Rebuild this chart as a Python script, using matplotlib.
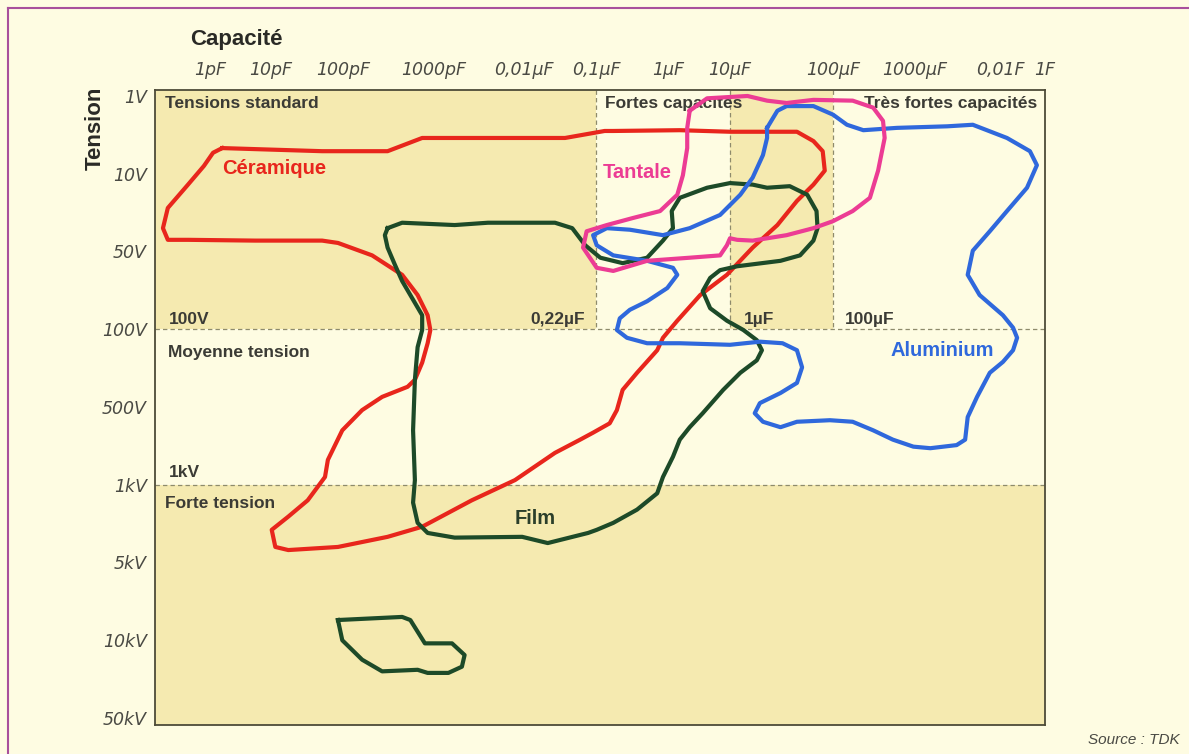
import numpy as np
import matplotlib
matplotlib.use("Agg")
import matplotlib.pyplot as plt
from matplotlib.lines import Line2D

plt.rcParams['font.family'] = ['Liberation Sans', 'DejaVu Sans']

# x = log10(capacite en F), y = rang du repere de tension (0 = 1V ... 8 = 50kV)
cap_ticks = [-12, -11, -10, -9, -8, -7, -6, -5, -4, -3, -2, 0]
cap_labels = ['1pF', '10pF', '100pF', '1000pF', '0,01µF', '0,1µF', '1µF', '10µF',
              '100µF', '1000µF', '0,01F', '1F']
volt_labels = ['1V', '10V', '50V', '100V', '500V', '1kV', '5kV', '10kV', '50kV']

# zones (bornes des cases)
std_limit = 3      # 100V
high_limit = 5     # 1kV
col_limits = [-7, -5, -4]

ceramique_x = [-11.80, -10.99, -10.29, -9.51, -9.13, -8.40, -7.43, -6.88, -6.76, -5.81,
               -5.00, -4.35, -4.19, -4.10, -4.08, -4.19, -4.35, -4.54, -4.78, -5.05,
               -5.48, -5.85, -6.07, -6.15, -6.43, -6.63, -6.71, -6.81, -7.04, -7.22,
               -7.57, -8.10, -8.58, -9.13, -9.51, -10.07, -10.76, -10.94, -10.99, -10.76,
               -10.49, -10.25, -10.21, -10.01, -9.79, -9.57, -9.29, -9.21, -9.13, -9.07,
               -9.04, -9.07, -9.18, -9.35, -9.68, -10.07, -10.29, -11.26, -12.36, -12.69,
               -12.77, -12.69, -12.36, -12.10, -11.95, -11.80]
ceramique_y = [0.67, 0.69, 0.71, 0.71, 0.54, 0.54, 0.54, 0.45, 0.45, 0.44,
               0.46, 0.46, 0.58, 0.71, 0.96, 1.14, 1.35, 1.66, 1.95, 2.30,
               2.56, 2.89, 3.11, 3.27, 3.56, 3.78, 4.04, 4.21, 4.33, 4.42,
               4.59, 4.94, 5.20, 5.54, 5.67, 5.80, 5.84, 5.80, 5.58, 5.41,
               5.20, 4.90, 4.68, 4.30, 4.04, 3.87, 3.74, 3.65, 3.43, 3.18,
               3.01, 2.82, 2.56, 2.30, 2.05, 1.89, 1.86, 1.86, 1.85, 1.85,
               1.70, 1.44, 1.14, 0.90, 0.73, 0.67]

film_x = [-9.51, -9.35, -8.77, -8.40, -7.57, -7.33, -7.15, -6.94, -6.63, -6.29,
          -6.07, -5.92, -5.94, -5.81, -5.37, -5.00, -4.78, -4.64, -4.42, -4.25,
          -4.16, -4.15, -4.19, -4.32, -4.51, -4.93, -5.16, -5.32, -5.44, -5.32,
          -5.05, -4.87, -4.74, -4.69, -4.74, -4.90, -5.11, -5.44, -5.65, -5.81,
          -5.92, -6.07, -6.15, -6.43, -6.76, -6.99, -7.11, -7.67, -8.02, -8.77,
          -9.07, -9.18, -9.23, -9.21, -9.23, -9.21, -9.18, -9.13, -9.13, -9.24,
          -9.35, -9.43, -9.51, -9.54, -9.51]
film_y = [1.70, 1.63, 1.66, 1.63, 1.63, 1.70, 1.92, 2.08, 2.15, 2.08,
          1.86, 1.70, 1.48, 1.31, 1.18, 1.12, 1.14, 1.18, 1.16, 1.27,
          1.48, 1.70, 1.86, 2.05, 2.12, 2.19, 2.24, 2.34, 2.51, 2.73,
          2.89, 3.01, 3.14, 3.27, 3.40, 3.56, 3.78, 4.08, 4.26, 4.42,
          4.64, 4.90, 5.11, 5.32, 5.49, 5.58, 5.62, 5.75, 5.67, 5.68,
          5.62, 5.49, 5.23, 4.94, 4.30, 3.65, 3.23, 3.01, 2.82, 2.60,
          2.38, 2.17, 1.95, 1.79, 1.70]

film_ht_x = [-10.07, -9.35, -9.26, -9.10, -8.80, -8.66, -8.69, -8.84, -9.07, -9.18,
             -9.57, -9.79, -10.01, -10.07]
film_ht_y = [6.74, 6.70, 6.74, 7.04, 7.04, 7.19, 7.34, 7.42, 7.42, 7.38,
             7.40, 7.25, 7.00, 6.74]

tantale_x = [-5.65, -5.37, -4.83, -4.64, -4.45, -4.19, -3.76, -3.51, -3.39, -3.37,
             -3.45, -3.55, -3.76, -4.00, -4.19, -4.45, -4.78, -4.93, -5.00, -5.05,
             -5.16, -5.65, -6.29, -6.76, -6.99, -7.18, -7.13, -6.85, -6.49, -6.11,
             -5.85, -5.76, -5.69, -5.69, -5.65]
tantale_y = [0.19, 0.03, 0.00, 0.06, 0.09, 0.05, 0.06, 0.15, 0.32, 0.54,
             0.96, 1.31, 1.48, 1.61, 1.70, 1.79, 1.86, 1.85, 1.83, 1.92,
             2.05, 2.08, 2.12, 2.25, 2.21, 1.95, 1.74, 1.66, 1.57, 1.48,
             1.27, 1.02, 0.67, 0.41, 0.19]

alu_x = [-4.64, -4.54, -4.45, -4.19, -4.00, -3.83, -3.63, -3.22, -2.62, -2.32,
         -1.69, -0.67, -0.36, -0.80, -1.69, -2.12, -2.32, -2.38, -2.24, -1.87,
         -1.42, -1.24, -1.42, -1.87, -2.12, -2.27, -2.38, -2.41, -2.51, -2.82,
         -3.02, -3.27, -3.51, -3.76, -4.03, -4.35, -4.51, -4.68, -4.76, -4.71,
         -4.51, -4.35, -4.30, -4.35, -4.49, -4.71, -5.00, -5.81, -6.29, -6.57,
         -6.71, -6.67, -6.53, -6.29, -6.01, -5.85, -5.92, -6.29, -6.76, -6.99,
         -7.04, -6.85, -6.53, -6.07, -5.65, -5.16, -4.90, -4.78, -4.68, -4.64,
         -4.64]
alu_y = [0.41, 0.19, 0.13, 0.13, 0.24, 0.37, 0.44, 0.41, 0.39, 0.37,
         0.54, 0.71, 0.89, 1.18, 1.48, 1.74, 1.99, 2.30, 2.56, 2.82,
         2.98, 3.11, 3.27, 3.42, 3.56, 3.87, 4.13, 4.42, 4.49, 4.53,
         4.51, 4.42, 4.30, 4.19, 4.17, 4.19, 4.26, 4.19, 4.08, 3.95,
         3.82, 3.69, 3.49, 3.27, 3.18, 3.16, 3.20, 3.18, 3.18, 3.11,
         3.01, 2.86, 2.75, 2.64, 2.47, 2.30, 2.21, 2.12, 2.05, 1.92,
         1.79, 1.70, 1.72, 1.79, 1.70, 1.53, 1.27, 1.05, 0.76, 0.54,
         0.41]

# the printed scale gives every decade its own width: pixel of each decade mark
decade_log = [-12.9] + cap_ticks
decade_px = [155, 210, 271, 343, 434, 524, 596, 668, 730, 833, 915, 1000, 1045]
decade_frac = [(p - 155) / 890 for p in decade_px]

def fwd(v):
    return np.interp(v, decade_log, decade_frac)

def inv(v):
    return np.interp(v, decade_frac, decade_log)

page = '#fefce2'
dark = '#f5eab0'
grid_col = '#8e8b6c'
txt = '#3b3b35'

fig = plt.figure(figsize=(11.89, 7.54), dpi=100, facecolor=page)
ax = fig.add_axes([155 / 1189, 29 / 754, 890 / 1189, 635 / 754])
ax.set_xscale('function', functions=(fwd, inv))
ax.set_xlim(-12.9, 0)
ax.set_ylim(8.09, -0.077)
ax.set_facecolor(page)

# fond des zones
ax.axhspan(high_limit, 8.09, color=dark, lw=0, zorder=0)
ax.fill_between([-12.9, col_limits[0]], -0.077, std_limit, color=dark, lw=0, zorder=0)
ax.fill_between([col_limits[1], col_limits[2]], -0.077, std_limit, color=dark, lw=0, zorder=0)

ls = (0, (3.5, 2.5))
for yl in [std_limit, high_limit]:
    ax.axhline(yl, color=grid_col, lw=0.9, ls=ls, zorder=1)
ax.vlines(col_limits, -0.077, std_limit, color=grid_col, lw=0.9, ls=ls, zorder=1)

lw = 3.0
ax.plot(ceramique_x, ceramique_y, color='#e8261c', lw=lw, solid_joinstyle='round', zorder=3)
ax.plot(film_x, film_y, color='#1d4a28', lw=lw, solid_joinstyle='round', zorder=4)
ax.plot(film_ht_x, film_ht_y, color='#1d4a28', lw=lw, solid_joinstyle='round', zorder=4)
ax.plot(alu_x, alu_y, color='#2f68dc', lw=lw, solid_joinstyle='round', zorder=5)
ax.plot(tantale_x, tantale_y, color='#ec3c94', lw=lw, solid_joinstyle='round', zorder=6)

# libelles des familles
ffs = 14.5
ax.text(-11.8, 0.93, 'Céramique', color='#e8261c', fontsize=ffs, fontweight='bold', va='center')
ax.text(-6.9, 0.98, 'Tantale', color='#ec3c94', fontsize=ffs, fontweight='bold', va='center')
ax.text(-8.1, 5.44, 'Film', color='#2b3f2a', fontsize=ffs, fontweight='bold', va='center')
ax.text(-3.3, 3.27, 'Aluminium', color='#2f68dc', fontsize=ffs, fontweight='bold', va='center')

# libelles des zones
zfs = 12.5
ax.text(-12.73, 0.1, 'Tensions standard', color=txt, fontsize=zfs, fontweight='bold', va='center')
ax.text(-6.88, 0.1, 'Fortes capacités', color=txt, fontsize=zfs, fontweight='bold', va='center')
ax.text(-0.36, 0.1, 'Très fortes capacités', color=txt, fontsize=zfs, fontweight='bold',
        va='center', ha='right')
ax.text(-12.68, 2.88, '100V', color=txt, fontsize=zfs, fontweight='bold', va='center')
ax.text(-7.15, 2.88, '0,22µF', color=txt, fontsize=zfs, fontweight='bold', va='center', ha='right')
ax.text(-4.87, 2.88, '1µF', color=txt, fontsize=zfs, fontweight='bold', va='center')
ax.text(-3.85, 2.88, '100µF', color=txt, fontsize=zfs, fontweight='bold', va='center')
ax.text(-12.68, 3.3, 'Moyenne tension', color=txt, fontsize=zfs, fontweight='bold', va='center')
ax.text(-12.68, 4.84, '1kV', color=txt, fontsize=zfs, fontweight='bold', va='center')
ax.text(-12.73, 5.24, 'Forte tension', color=txt, fontsize=zfs, fontweight='bold', va='center')

# axes
tick_font = dict(family='DejaVu Sans', style='italic', size=12.5)
ax.xaxis.tick_top()
ax.set_xticks(cap_ticks)
ax.set_xticklabels(cap_labels, fontdict=tick_font, color='#4a4a44')
ax.set_yticks(range(len(volt_labels)))
ax.set_yticklabels(volt_labels, fontdict=tick_font, color='#4a4a44')
ax.tick_params(axis='x', length=0, pad=8)
ax.tick_params(axis='y', length=0, pad=6)
for s in ax.spines.values():
    s.set_color('#4d4b38')
    s.set_linewidth(1.3)

fig.text(190 / 1189, 1 - 40 / 754, 'Capacité', fontsize=16, fontweight='bold', color='#2a2a26',
         va='center', ha='left')
fig.text(95 / 1189, 1 - 128 / 754, 'Tension', fontsize=16, fontweight='bold', color='#2a2a26',
         va='center', ha='center', rotation=90)
fig.text(1180 / 1189, 1 - 740 / 754, 'Source : TDK', fontsize=11, fontstyle='italic',
         color='#4a4a44', va='center', ha='right')

# filet du cadre de la page
fig.add_artist(Line2D([8 / 1189, 1], [1 - 8 / 754, 1 - 8 / 754], color='#a8509c', lw=1.5))
fig.add_artist(Line2D([8 / 1189, 8 / 1189], [0, 1 - 8 / 754], color='#a8509c', lw=1.5))

fig.savefig('out.png', dpi=100, facecolor=page)
